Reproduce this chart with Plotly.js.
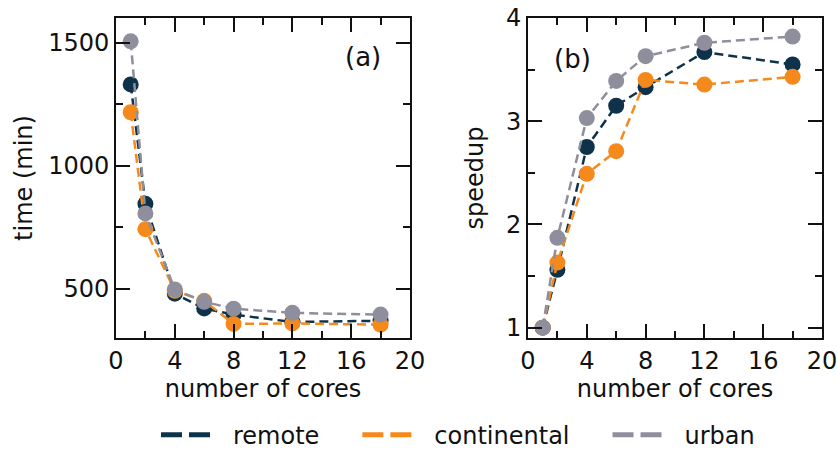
<!DOCTYPE html>
<html>
<head>
<meta charset="utf-8">
<script src="https://cdn.plot.ly/plotly-3.0.1.min.js"></script>
<style>
  html, body { margin: 0; padding: 0; background: #ffffff; }
  #chart { width: 837px; height: 451px; }
</style>
</head>
<body>
<div id="chart"></div>
<script>
// Number of cores used for each run
const cores = [1, 2, 4, 6, 8, 12, 18];

// Wall-clock time (min) per scenario
const timeRemote      = [1330, 845, 480, 420, 395, 365, 370];
const timeContinental = [1217, 742, 492, 451, 357, 359, 354];
const timeUrban       = [1505, 806, 497, 447, 419, 402, 395];

// Speedup relative to the single-core run
const speedRemote      = [1.0, 1.56, 2.75, 3.15, 3.33, 3.67, 3.55];
const speedContinental = [1.0, 1.63, 2.49, 2.71, 3.40, 3.355, 3.43];
const speedUrban       = [1.0, 1.87, 3.03, 3.39, 3.63, 3.76, 3.82];

const seriesNames = ['remote', 'continental', 'urban'];
const seriesColors = ['#0e3249', '#f5891c', '#8e8e9c'];

const FONT = 'DejaVu Sans, Verdana, sans-serif';
const INK = '#111111';
const FS = 24;

function seriesTrace(y, i, xa, ya) {
  return {
    x: cores, y: y, xaxis: xa, yaxis: ya,
    type: 'scatter', mode: 'lines+markers',
    name: seriesNames[i], showlegend: false,
    line: { color: seriesColors[i], width: 2.5, dash: '9px,5px' },
    marker: { color: seriesColors[i], size: 16 }
  };
}

// Legend-only entries. The swatch path is itemwidth long; the dash pattern
// leaves a blank lead-in (spacing from the previous entry), draws two dashes,
// then leaves a blank run before the label.
const LEGEND_DASH = '0.01px,33px,21px,7px,21px,300px';
function legendTrace(i) {
  return {
    x: [null], y: [null], type: 'scatter', mode: 'lines',
    name: seriesNames[i], showlegend: true,
    line: { color: seriesColors[i], width: 5, dash: LEGEND_DASH }
  };
}

const timeSets = [timeRemote, timeContinental, timeUrban];
const speedSets = [speedRemote, speedContinental, speedUrban];

const data = [];
timeSets.forEach((y, i) => data.push(seriesTrace(y, i, 'x', 'y')));
speedSets.forEach((y, i) => data.push(seriesTrace(y, i, 'x2', 'y2')));
seriesNames.forEach((_, i) => data.push(legendTrace(i)));

function xAxis(domain, anchor) {
  return {
    domain: domain, anchor: anchor, range: [0, 20],
    tickmode: 'linear', tick0: 0, dtick: 4,
    ticks: 'inside', ticklen: 14, tickwidth: 2, tickcolor: INK,
    minor: { ticks: 'inside', dtick: 2, tick0: 0, ticklen: 7, tickwidth: 2, tickcolor: INK },
    showline: true, linewidth: 2, linecolor: INK, mirror: 'ticks',
    showgrid: false, zeroline: false, ticklabeloverflow: 'allow',
    tickfont: { family: FONT, size: FS, color: INK },
    title: { text: 'number of cores', standoff: 6, font: { family: FONT, size: FS, color: INK } }
  };
}

function yAxis(range, dtick, minorDtick, titleText, anchor, tick0, standoff) {
  return {
    domain: [0.2506, 0.9601], anchor: anchor, range: range,
    tickmode: 'linear', tick0: tick0, dtick: dtick,
    ticks: 'inside', ticklen: 14, tickwidth: 2, tickcolor: INK,
    minor: { ticks: 'inside', dtick: minorDtick, tick0: tick0, ticklen: 7, tickwidth: 2, tickcolor: INK },
    showline: true, linewidth: 2, linecolor: INK, mirror: 'ticks',
    showgrid: false, zeroline: false, ticklabeloverflow: 'allow',
    tickfont: { family: FONT, size: FS, color: INK },
    title: { text: titleText, standoff: standoff, font: { family: FONT, size: FS, color: INK } }
  };
}

const layout = {
  width: 837, height: 451,
  margin: { l: 0, r: 0, t: 0, b: 0, autoexpand: false },
  paper_bgcolor: '#ffffff', plot_bgcolor: '#ffffff',
  font: { family: FONT, size: FS, color: INK },
  xaxis: xAxis([0.1386, 0.4898], 'y'),
  yaxis: yAxis([300, 1600], 500, 250, 'time (min)', 'x', 500, 9),
  xaxis2: xAxis([0.6308, 0.9821], 'y2'),
  yaxis2: yAxis([0.9, 4.0], 1, 0.5, 'speedup', 'x2', 1, 15),
  showlegend: true,
  legend: {
    orientation: 'h', x: 0.5275, xanchor: 'center', y: 0.035, yanchor: 'middle',
    font: { family: FONT, size: FS, color: INK },
    bgcolor: 'rgba(0,0,0,0)', itemwidth: 100
  },
  annotations: [
    { text: '(a)', xref: 'x', yref: 'y', x: 16.8, y: 1440, showarrow: false,
      font: { family: FONT, size: 26, color: INK } },
    { text: '(b)', xref: 'x2', yref: 'y2', x: 3.0, y: 3.6, showarrow: false,
      font: { family: FONT, size: 26, color: INK } }
  ]
};

Plotly.newPlot('chart', data, layout, { staticPlot: true, displayModeBar: false });
</script>
</body>
</html>
